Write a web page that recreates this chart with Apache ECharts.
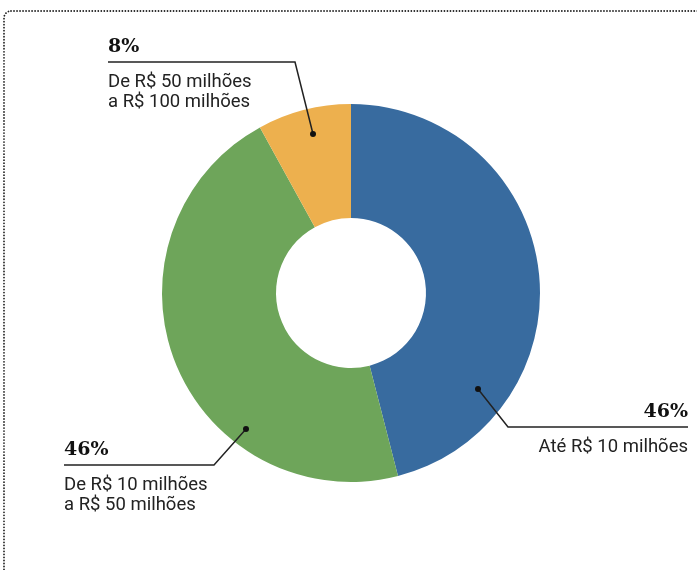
<!DOCTYPE html>
<html>
<head>
<meta charset="utf-8">
<script src="https://cdn.jsdelivr.net/npm/echarts@6/dist/echarts.min.js"></script>
<style>
html,body{margin:0;padding:0;background:#fff;}
#c{width:697px;height:570px;}
</style>
</head>
<body>
<div id="c"></div>
<script>
var categories = ['Até R$ 10 milhões', 'De R$ 10 milhões\na R$ 50 milhões', 'De R$ 50 milhões\na R$ 100 milhões'];
var values = [46, 46, 8];
var percentLabels = ['46%', '46%', '8%'];
var colors = ['#386b9f', '#6ea55a', '#edb04e'];

var chart = echarts.init(document.getElementById('c'), null, {renderer: 'canvas'});

// annotation layout (positions of callouts)
var callouts = [
  {dot: [478, 389], elbow: [508, 427], end: [688, 427], align: 'right', tx: 688},
  {dot: [246, 429], elbow: [214, 465], end: [64, 465], align: 'left', tx: 64},
  {dot: [313, 134], elbow: [295, 62], end: [108, 62], align: 'left', tx: 108}
];

var graphics = [
  {type: 'rect', shape: {x: 4, y: 11, width: 760, height: 620, r: 7},
   style: {fill: 'none', stroke: '#222', lineWidth: 1.8, lineDash: [0.01, 3], lineCap: 'round'}, silent: true}
];

callouts.forEach(function (c, i) {
  graphics.push({type: 'polyline', shape: {points: [c.dot, c.elbow, c.end]},
    style: {fill: 'none', stroke: '#222', lineWidth: 1.5}, z: 10});
  graphics.push({type: 'circle', shape: {cx: c.dot[0], cy: c.dot[1], r: 3},
    style: {fill: '#111'}, z: 11});
  graphics.push({type: 'text', x: c.tx, y: c.end[1] - 5, z: 12,
    style: {text: percentLabels[i], font: 'bold 19px "DejaVu Serif"', fill: '#111',
      textAlign: c.align, textVerticalAlign: 'bottom'}});
  graphics.push({type: 'text', x: c.tx, y: c.end[1] + 10, z: 12,
    style: {text: categories[i], font: '18.5px Roboto', fill: '#222', lineHeight: 20,
      textAlign: c.align, textVerticalAlign: 'top'}});
});

chart.setOption({
  animation: false,
  color: colors,
  series: [{
    type: 'pie',
    center: [351, 293],
    radius: [75, 189],
    startAngle: 90,
    clockwise: true,
    label: {show: false},
    labelLine: {show: false},
    itemStyle: {borderWidth: 0},
    emphasis: {disabled: true},
    data: values.map(function (v, i) { return {value: v, name: categories[i]}; })
  }],
  graphic: graphics
});
</script>
</body>
</html>
